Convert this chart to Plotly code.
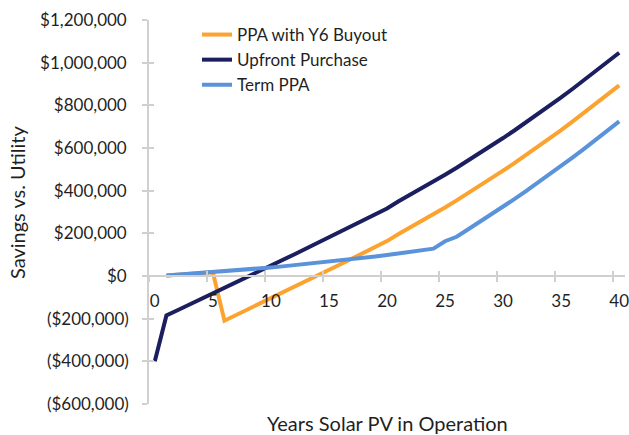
import plotly.graph_objects as go

# ---------------- data ----------------
years_upfront = list(range(0, 41))
years_ppa = list(range(1, 41))

upfront_purchase = [-400000, -185000, -159500, -133900, -108200, -82400, -56500, -30500, -4400,
                    21800, 48100, 74500, 101000, 127600, 154300, 181100, 208000, 235000, 262100,
                    289300, 316600, 350000, 380000, 410700, 442200, 474400, 507400, 541100, 575500,
                    610700, 646600, 683300, 720700, 758800, 797700, 837300, 877700, 918800, 960600,
                    1003200, 1046500]

ppa_y6_buyout = [2000, 5700, 9400, 13200, 17000, -209500, -183500, -157400, -131200, -104900,
                 -78500, -52000, -25400, 1300, 28100, 55000, 82000, 109100, 136300, 163600,
                 197000, 227000, 257700, 289200, 321400, 354400, 388100, 422500, 457700, 493600,
                 530300, 567700, 605800, 644700, 684300, 724700, 765800, 807600, 850200, 893500]

term_ppa = [2000, 5700, 9400, 13200, 17000, 21300, 25800, 30400, 35100, 40000,
            45100, 50400, 55800, 61300, 67000, 72900, 79000, 85200, 91500, 98000,
            105200, 112600, 120200, 128000, 163000, 184000, 219100, 253500, 288700, 324600,
            361300, 398700, 436800, 475700, 515300, 555700, 596800, 638600, 681200, 724500]

series_names = ["PPA with Y6 Buyout", "Upfront Purchase", "Term PPA"]

y_tick_values = [-600000, -400000, -200000, 0, 200000, 400000, 600000, 800000, 1000000, 1200000]
y_tick_labels = ["($600,000)", "($400,000)", "($200,000)", "$0\u2009", "$200,000\u2009",
                 "$400,000\u2009", "$600,000\u2009", "$800,000\u2009", "$1,000,000\u2009",
                 "$1,200,000\u2009"]
x_tick_values = [0, 5, 10, 15, 20, 25, 30, 35, 40]
x_tick_labels = ["0", "5", "10", "15", "20", "25", "30", "35", "40"]
x_boundary_ticks = [-0.5, 4.5, 9.5, 14.5, 19.5, 24.5, 29.5, 34.5, 39.5]

x_title = "Years Solar PV in Operation"
y_title = "Savings vs. Utility"

# ---------------- style ----------------
FONT = "Lato"
TXT = "#1F1F1F"
AX = "#D0D0D0"
colors = ["#FBA22F", "#1B1E5F", "#5A93DA"]
X_RANGE = [-0.5, 40.5]
Y_RANGE = [-600000, 1200000]
zero_pos = (0 - Y_RANGE[0]) / (Y_RANGE[1] - Y_RANGE[0])
L, R, T, B = 149, 4, 20, 31
PW = 629 - L - R
PH = 435 - T - B

fig = go.Figure()
fig.add_trace(go.Scatter(x=years_ppa, y=ppa_y6_buyout, name=series_names[0], mode="lines",
                         line=dict(color=colors[0], width=4)))
fig.add_trace(go.Scatter(x=years_upfront, y=upfront_purchase, name=series_names[1], mode="lines",
                         line=dict(color=colors[1], width=4)))
fig.add_trace(go.Scatter(x=years_ppa, y=term_ppa, name=series_names[2], mode="lines",
                         line=dict(color=colors[2], width=4)))

# empty helper traces so the tick-only overlay axes get drawn
for xa, ya in [("x2", "y"), ("x3", "y"), ("x", "y2")]:
    fig.add_trace(go.Scatter(x=[], y=[], xaxis=xa, yaxis=ya, showlegend=False, hoverinfo="skip"))

fig.update_layout(
    width=629, height=435,
    margin=dict(l=L, r=R, t=T, b=B, autoexpand=False),
    paper_bgcolor="white", plot_bgcolor="white",
    font=dict(family=FONT, size=17, color=TXT),
    showlegend=True,
    legend=dict(x=(197 - L) / PW, y=(435 - B - 17) / PH, xanchor="left", yanchor="top",
                bgcolor="rgba(0,0,0,0)", font=dict(family=FONT, size=17, color=TXT),
                tracegroupgap=0),
    xaxis=dict(range=X_RANGE, anchor="free", position=zero_pos, showgrid=False, zeroline=False,
               automargin=False, showline=True, linecolor=AX, linewidth=1.5, ticks="",
               tickvals=x_tick_values, ticktext=x_tick_labels, ticklabelstandoff=10,
               ticklabeloverflow="allow",
               tickfont=dict(family=FONT, size=17, color=TXT)),
    xaxis2=dict(range=X_RANGE, overlaying="x", anchor="free", position=zero_pos, showgrid=False,
                automargin=False, zeroline=False, showline=False, ticks="outside", ticklen=5,
                tickwidth=1.5, tickcolor=AX, tickvals=x_boundary_ticks, showticklabels=False),
    xaxis3=dict(range=X_RANGE, overlaying="x", anchor="free", position=zero_pos, showgrid=False,
                automargin=False, zeroline=False, showline=False, ticks="inside", ticklen=5,
                tickwidth=1.5, tickcolor=AX, tickvals=x_boundary_ticks, showticklabels=False),
    yaxis=dict(range=Y_RANGE, showgrid=False, zeroline=False, showline=True, linecolor=AX,
               automargin=False, linewidth=1.5, ticks="outside", ticklen=5, tickwidth=1.5,
               tickcolor=AX, tickvals=y_tick_values, ticktext=y_tick_labels, ticklabelstandoff=10,
               ticklabeloverflow="allow",
               tickfont=dict(family=FONT, size=17, color=TXT)),
    yaxis2=dict(range=Y_RANGE, overlaying="y", showgrid=False, zeroline=False, showline=False,
                automargin=False, ticks="inside", ticklen=5, tickwidth=1.5, tickcolor=AX,
                tickvals=y_tick_values, showticklabels=False),
    annotations=[
        dict(text=x_title, xref="paper", yref="paper", x=(387 - L) / PW, y=(435 - B - 423) / PH,
             xanchor="center", yanchor="middle", showarrow=False,
             font=dict(family=FONT, size=20, color=TXT)),
        dict(text=y_title, xref="paper", yref="paper", x=(17 - L) / PW, y=(435 - B - 202) / PH,
             xanchor="center", yanchor="middle", textangle=-90, showarrow=False,
             font=dict(family=FONT, size=20, color=TXT)),
    ],
)

fig.write_html("out.html", config={"displayModeBar": False},
               post_script="document.body.style.margin='0';document.body.style.overflow='hidden';")
